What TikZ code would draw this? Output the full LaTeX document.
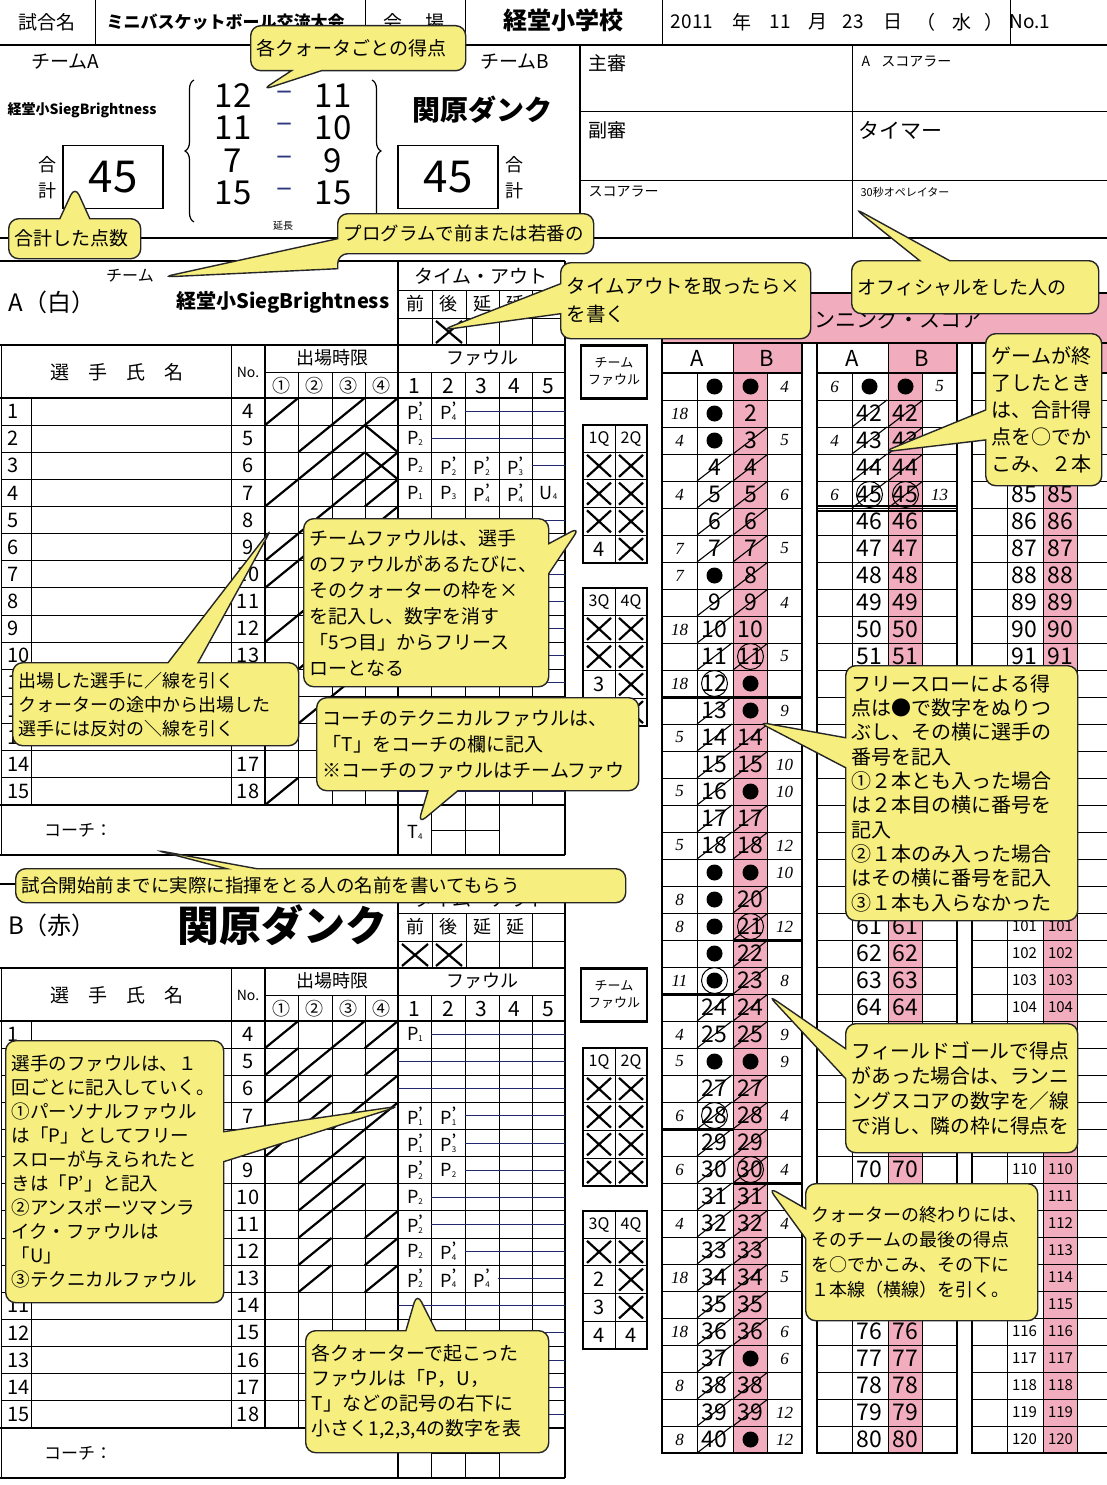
\documentclass[tikz,border=0pt]{standalone}
\usepackage{fontspec}
\setmainfont{Noto Sans CJK JP}
\newfontfamily\serifnum{Liberation Serif}
\usetikzlibrary{shapes.callouts,decorations.pathreplacing}
\definecolor{callfill}{RGB}{246,238,126}
\definecolor{rspink}{RGB}{241,172,190}
\definecolor{penblue}{RGB}{35,40,110}
\definecolor{navy}{RGB}{45,55,125}
\newcommand\fsz[1]{\fontsize{#1}{#1}\selectfont}
\newcommand\foulmark[3]{#1\rlap{\raisebox{.45em}{\fsz{12}\bfseries#2}}\raisebox{-.05em}{\fsz{8}#3}}
\newcommand\teamblock[1]{%
  \draw[tline] (0,261) -- (565,261) (0,345) -- (565,345) (0,398) -- (565,398)
    (0,805) -- (565,805) (0,855) -- (565,855) (565,261) -- (565,855)
    (398,261) -- (398,855) (265,345) -- (265,805);
  \draw[gline] (1,345) -- (1,855) (398,290) -- (565,290) (398,318) -- (565,318)
    (265,372) -- (565,372) (231,345) -- (231,805) (31,398) -- (31,805) (431,830) -- (499,830);
  \foreach \x in {432,466,499,532} \draw[gline] (\x,290) -- (\x,345);
  \foreach \x in {298,332,365,431,465,499,532} \draw[gline] (\x,372) -- (\x,805);
  \foreach \x in {431,465,499} \draw[gline] (\x,805) -- (\x,855);
  \foreach \k in {1,...,14} \draw[gline] (1,398+27.13*\k) -- (565,398+27.13*\k);
  \node[font=\fsz{19}] (#1to) at (481,276) {タイム・アウト};
  \foreach \tw [count=\i] in {前,後,延,延} \node[font=\fsz{18}] (#1to\i) at (415+33.5*\i-33.5,304) {\tw};
  \node[font=\fsz{19}] (#1hName) at (117,372) {選\hspace{1em}手\hspace{1em}氏\hspace{1em}名};
  \node[font=\fsz{14}] (#1hNo) at (248,372) {No.};
  \node[font=\fsz{18}] (#1hPlay) at (332,358) {出場時限};
  \node[font=\fsz{18}] (#1hFoul) at (482,358) {ファウル};
  \foreach \tw [count=\i] in {①,②,③,④} \node[font=\fsz{18}] (#1q\i) at (281.5+33.25*\i-33.25,386) {\tw};
  \foreach \i in {1,...,5} \node[font=\fsz{21}] (#1f\i) at (414.5+33.4*\i-33.4,386) {\i};
  \foreach \k in {1,...,15} {
    \pgfmathtruncatemacro\no{\k+3}
    \node[anchor=west, font=\fsz{20}] (#1r\k) at (4,384.4+27.13*\k) {\k};
    \node[font=\fsz{20}] (#1n\k) at (248,384.4+27.13*\k) {\no};
  }
  \node[font=\fsz{17}] (#1coach) at (78,830) {コーチ：};
  \node[draw, line width=2.4pt, minimum width=66pt, minimum height=53pt, inner sep=0pt,
    align=center, font=\fontsize{13}{17}\selectfont] (#1tf) at (614,372) {チーム\\ファウル};
  \foreach \yt/\qa/\qb in {425/1Q/2Q,588/3Q/4Q} {
    \draw[line width=2.4pt] (583,\yt) rectangle (647,\yt+138);
    \draw[gline] (615,\yt) -- (615,\yt+138);
    \foreach \j in {0,...,3} \draw[gline] (583,\yt+27+27.75*\j) -- (647,\yt+27+27.75*\j);
    \node[font=\fsz{16}] (#1\qa) at (599,\yt+14) {\qa};
    \node[font=\fsz{16}] (#1\qb) at (631,\yt+14) {\qb};
  }}
\newcommand\playslash[3]{%
  \pgfmathsetmacro\psx{265+33.25*(#2-1)}%
  \pgfmathsetmacro\psy{398+27.13*(#1-1)}%
  \if#3b\else\draw[xcross] (\psx,\psy+27.13) -- (\psx+33.25,\psy);\fi
  \if#3s\else\draw[xcross] (\psx,\psy) -- (\psx+33.25,\psy+27.13);\fi}
\newcommand\tfcell[5]{%
  \pgfmathsetmacro\tfx{599+32*(#3-1)}%
  \pgfmathsetmacro\tfy{#2+27+27.75*(#4-0.5)}%
  \if#5x\draw[xcross] (\tfx-12,\tfy-11) -- (\tfx+12,\tfy+11) (\tfx-12,\tfy+11) -- (\tfx+12,\tfy-11);%
  \else\node[font=\fsz{20}] (#1tf#2-#3-#4) at (\tfx,\tfy) {#5};\fi}
\newcommand\foulcell[6]{%
  \node[font=\fsz{18}, inner sep=0pt] (#1fl#2-#3) at (415+33.4*#3-33.4,384.4+27.13*#2) {\foulmark{#4}{#5}{#6}};}
\newcommand\strikerow[2]{\draw[penblue, line width=1pt] (398+33.4*#2-33.4,384.4+27.13*#1) -- (565,384.4+27.13*#1);}
\newcommand\rscell[5]{%
  \if#2d\fill (#1+17.5,#4) circle[radius=8];\fi
  \if#2c\fill (#1+17.5,#4) circle[radius=8];\draw[line width=1pt] (#1+17.5,#4) circle[radius=13];\fi
  \if#2n\node[rsnum] (#5) at (#1+17.5,#4) {#3};\fi
  \if#2s\node[rsnum, font=\fsz{15}] (#5) at (#1+17.5,#4) {#3};\fi
  \if#2x\node[rsnum] (#5) at (#1+17.5,#4) {#3};\draw[line width=1.1pt] (#1,#4+13.5) -- (#1+35,#4-13.5);\fi
  \if#2o\node[rsnum] (#5) at (#1+17.5,#4) {#3};\draw[line width=1pt] (#1+17.5,#4) circle[radius=13];\fi
  \if#2q\node[rsnum] (#5) at (#1+17.5,#4) {#3};\draw[line width=1pt] (#1+17.5,#4) circle[radius=13];
    \draw[line width=1.1pt] (#1,#4+13.5) -- (#1+35,#4-13.5);\fi}
\newcommand\rsrow[6]{%
  \pgfmathsetmacro\yc{373+27*(#2-40*int((#2-1)/40))-13.5}%
  \rscell{#1+35}{#4}{#2}{\yc}{rs#2-a}
  \rscell{#1+71}{#5}{#2}{\yc}{rs#2-b}
  \node[rsply] (rs#2-pa) at (#1+17.5,\yc) {#3};
  \node[rsply] (rs#2-pb) at (#1+122.5,\yc) {#6};}

\begin{document}
\begin{tikzpicture}[x=1pt,y=-1pt,
  gline/.style={line width=1pt},
  tline/.style={line width=2.6pt},
  xcross/.style={line width=2.2pt},
  rsnum/.style={font=\fsz{23}, inner sep=0pt},
  rsply/.style={font=\serifnum\itshape\fsz{17}, inner sep=0pt},
  callbox/.style={rectangle callout, draw=black!85, line width=1.4pt, fill=callfill,
    rounded corners=10pt, anchor=north west, align=left, inner xsep=6pt, inner ysep=4pt,
    callout pointer width=30pt, font=\fontsize{19}{25}\selectfont}]
\fill[white] (0,0) rectangle (1107,1485);
\useasboundingbox (0,0) rectangle (1107,1485);

\draw[tline] (0,45) -- (1107,45) (580,45) -- (580,238) (0,238) -- (1107,238);
\draw[gline] (852,45) -- (852,238) (580,112) -- (1107,112) (580,180) -- (1107,180);
\foreach \x in {95,365,465,662,1010} \draw[gline] (\x,0) -- (\x,45);
\node[font=\fsz{19}] (hdMeet) at (47,22) {試合名};
\node[anchor=west, font=\bfseries\fsz{17}] (hdMeetName) at (103,22) {ミニバスケットボール交流大会};
\node[font=\fsz{19}] (hdHall) at (414,22) {会\hspace{1.2em}場};
\node[font=\bfseries\fsz{24}] (hdHallName) at (563,20) {経堂小学校};
\foreach \tw/\x [count=\i] in {2011/692,年/742,11/780,月/818,23/853,日/893,（/926,水/962,）/994}
  \node[font=\fsz{19}] (hdDate\i) at (\x,22) {\tw};
\node[font=\fsz{19}] (hdNo) at (1030,22) {No.1};

\node[anchor=west, font=\fsz{19}] (offMain) at (585,63) {主審};
\node[anchor=west, font=\fsz{14}] (offScA) at (858,62) {A\hspace{0.8em}スコアラー};
\node[anchor=west, font=\fsz{19}] (offSub) at (585,130) {副審};
\node[anchor=west, font=\fsz{21}] (offTimer) at (855,130) {タイマー};
\node[anchor=west, font=\fsz{14}] (offSc) at (585,192) {スコアラー};
\node[anchor=west, font=\fsz{11}] (offShot) at (857,192) {30秒オペレイター};

\node[font=\fsz{19}] (tsA) at (65,62) {チームA};
\node[font=\fsz{19}] (tsB) at (515,62) {チームB};
\node[font=\bfseries\fsz{14}] (tsAname) at (82,110) {経堂小SiegBrightness};
\node[font=\bfseries\fsz{28}] (tsBname) at (482,110) {関原ダンク};
\draw[decorate, decoration={brace, amplitude=9pt}, line width=1.2pt] (194,222) -- (194,80);
\draw[decorate, decoration={brace, amplitude=9pt}, line width=1.2pt] (372,80) -- (372,222);
\foreach \sa/\sb [count=\i] in {12/11,11/10,7/9,15/15} {
  \node[font=\fsz{33}] (qsA\i) at (233,63+32.5*\i) {\sa};
  \node[font=\fsz{30}, text=navy] (qsD\i) at (285,63+32.5*\i) {–};
  \node[font=\fsz{33}] (qsB\i) at (333,63+32.5*\i) {\sb};
}
\node[draw, line width=1.2pt, minimum width=100pt, minimum height=63pt, font=\fsz{44}] (totA) at (113,177) {45};
\node[draw, line width=1.2pt, minimum width=100pt, minimum height=63pt, font=\fsz{44}] (totB) at (448,177) {45};
\node[align=center, font=\fontsize{18}{26}\selectfont] (totAl) at (47,178) {合\\計};
\node[align=center, font=\fontsize{18}{26}\selectfont] (totBl) at (514,178) {合\\計};
\node[font=\fsz{10}] (extra) at (283,226) {延長};

% team A
\node[font=\fsz{16}] (Ateam) at (130,276) {チーム};
\node[font=\fsz{24}] (Aside) at (52,302) {A（白）};
\node[font=\bfseries\fsz{20}] (Aname) at (283,302) {経堂小SiegBrightness};
\teamblock{A}
\draw[xcross] (436,321) -- (462,343) (436,343) -- (462,321);
\foreach \r/\q/\ty in {1/1/s,1/3/s,1/4/s,2/2/s,2/3/s,2/4/b,3/2/s,3/3/s,3/4/x,4/1/s,4/3/s,4/4/s,
  5/2/s,5/4/s,6/1/s,6/2/s,7/1/s,7/3/s,8/2/s,8/4/s,9/1/s,9/3/s,10/2/s,10/4/s,11/1/s,11/3/s,
  12/2/s,13/4/s,14/4/s,15/1/s} {\playslash{\r}{\q}{\ty}}
\foreach \r/\c/\fl/\fm/\fn in {1/1/P/'/1,1/2/P/'/4,2/1/P//2,3/1/P//2,3/2/P/'/2,3/3/P/'/2,
  3/4/P/'/3,4/1/P//1,4/2/P//3,4/3/P/'/4,4/4/P/'/4,4/5/U//4} {\foulcell{A}{\r}{\c}{\fl}{\fm}{\fn}}
\foreach \r/\sc in {1/3,2/2,3/5} {\strikerow{\r}{\sc}}
\foreach \r in {5,...,15} {\strikerow{\r}{1}}
\node[font=\fsz{18}, inner sep=0pt] (Acoachfoul) at (415,832) {\foulmark{T}{}{4}};
\foreach \bt/\c/\j/\v in {425/1/1/x,425/1/2/x,425/1/3/x,425/1/4/4,425/2/1/x,425/2/2/x,425/2/3/x,
  425/2/4/x,588/1/1/x,588/1/2/x,588/1/3/3,588/2/1/x,588/2/2/x,588/2/3/x,588/2/4/x} {\tfcell{A}{\bt}{\c}{\j}{\v}}

% team B
\begin{scope}[shift={(0,623)}]
\node[font=\fsz{24}] (Bside) at (52,302) {B（赤）};
\node[font=\bfseries\fsz{42}] (Bname) at (282,302) {関原ダンク};
\teamblock{B}
\draw[xcross] (402,321) -- (428,343) (402,343) -- (428,321) (436,321) -- (462,343) (436,343) -- (462,321);
\foreach \r/\q/\ty in {1/1/s,1/3/s,1/4/s,2/1/s,2/2/s,2/4/s,3/1/s,3/2/s,3/4/s,4/2/s,4/3/s,4/4/s,
  5/1/s,5/3/s,6/2/s,6/3/s,7/2/s,7/3/s,8/2/s,8/4/s,9/2/s,9/4/s,10/2/s,10/4/s} {\playslash{\r}{\q}{\ty}}
\foreach \r/\c/\fl/\fm/\fn in {1/1/P//1,4/1/P/'/1,4/2/P/'/1,5/1/P/'/1,5/2/P/'/3,6/1/P/'/2,6/2/P//2,
  7/1/P//2,8/1/P/'/2,9/1/P//2,9/2/P/'/4,10/1/P/'/2,10/2/P/'/4,10/3/P/'/4} {\foulcell{B}{\r}{\c}{\fl}{\fm}{\fn}}
\foreach \r/\sc in {1/2,2/1,3/1,4/3,5/3,6/3,7/2,8/2,9/3,10/4} {\strikerow{\r}{\sc}}
\foreach \r in {11,...,15} {\strikerow{\r}{1}}
\foreach \bt/\c/\j/\v in {425/1/1/x,425/1/2/x,425/1/3/x,425/1/4/x,425/2/1/x,425/2/2/x,425/2/3/x,
  425/2/4/x,588/1/1/x,588/1/2/2,588/1/3/3,588/1/4/4,588/2/1/x,588/2/2/x,588/2/3/x,588/2/4/4} {\tfcell{B}{\bt}{\c}{\j}{\v}}
\end{scope}

% running score
\fill[rspink] (662,293) rectangle (1107,343);
\node[font=\fsz{21}] (rsTitle) at (888,319) {ランニング・スコア};
\foreach \bl in {662,817,972} {
  \fill[rspink] (\bl+71,343) rectangle (\bl+140,373) (\bl+71,373) rectangle (\bl+105,1453);
  \foreach \k in {1,...,39} \draw[gline] (\bl,373+27*\k) -- (\bl+140,373+27*\k);
  \draw[gline] (\bl+35,373) -- (\bl+35,1453) (\bl+105,373) -- (\bl+105,1453) (\bl+71,343) -- (\bl+71,1453);
  \draw[line width=1.8pt] (\bl,373) -- (\bl+140,373);
  \draw[tline] (\bl,343) rectangle (\bl+140,1453);
  \node[font=\fsz{22}] (rsA\bl) at (\bl+35,358) {A};
  \node[font=\fsz{22}] (rsB\bl) at (\bl+105,358) {B};
}
\draw[tline] (662,293) -- (1107,293) (662,293) -- (662,343) (662,343) -- (1107,343);
\foreach \r/\ap/\ca/\cb/\bp in {1//d/d/4,2/18/d/n/,3/4/d/x/5,4//x/x/,5/4/x/x/6,6//x/x/,7/7/x/x/5,
  8/7/d/x/,9//x/x/4,10/18/x/n/,11//x/q/5,12/18/o/d/,13//x/d/9,14/5/x/x/,15//x/x/10,16/5/x/d/10,
  17//x/x/,18/5/x/x/12,19//d/d/10,20/8/d/x/,21/8/d/q/12,22//d/x/,23/11/c/x/8,24//x/x/,25/4/x/x/9,
  26/5/d/d/9,27//x/x/,28/6/q/x/4,29//x/x/,30/6/x/q/4,31//x/x/,32/4/x/x/4,33//x/x/,34/18/x/x/5,
  35//x/x/,36/18/x/x/6,37//x/d/6,38/8/x/x/,39//x/x/12,40/8/x/d/12} {\rsrow{662}{\r}{\ap}{\ca}{\cb}{\bp}}
\foreach \r/\ap/\ca/\cb/\bp in {41/6/d/d/5,42//x/x/,43/4/x/x/,44//x/x/,45/6/q/q/13} {\rsrow{817}{\r}{\ap}{\ca}{\cb}{\bp}}
\foreach \r in {46,...,80} {\rsrow{817}{\r}{}{n}{n}{}}
\foreach \r in {81,...,100} {\rsrow{972}{\r}{}{n}{n}{}}
\foreach \r in {101,...,120} {\rsrow{972}{\r}{}{s}{s}{}}
\draw[line width=3pt] (662,697) -- (802,697) (662,994) -- (733,994) (662,1129) -- (733,1129)
  (733,940) -- (802,940) (733,1183) -- (802,1183);
\draw[line width=1.6pt] (817,506) -- (957,506) (817,511) -- (957,511);

% callouts
\coordinate (tipQuarter) at (262,90);
\node[callbox, text width=203pt, minimum height=45pt, callout absolute pointer={(tipQuarter)}] (cQuarter) at (250,25) {各クォータごとの得点};
\coordinate (tipTotal) at (75,186);
\node[callbox, text width=120pt, minimum height=40pt, callout absolute pointer={(tipTotal)}] (cTotal) at (8,218) {合計した点数};
\coordinate (tipProgram) at (163,277);
\node[callbox, text width=244pt, minimum height=40pt, font=\fontsize{18.5}{24}\selectfont, callout absolute pointer={(tipProgram)}] (cProgram) at (337,213) {プログラムで前または若番の};
\coordinate (tipTimeout) at (442,330);
\node[callbox, text width=238pt, minimum height=76pt, font=\fontsize{19.5}{28}\selectfont, callout absolute pointer={(tipTimeout)}] (cTimeout) at (560,262) {タイムアウトを取ったら×\\を書く};
\coordinate (tipOfficial) at (854,208);
\node[callbox, text width=235pt, minimum height=53pt, callout absolute pointer={(tipOfficial)}] (cOfficial) at (851,260) {オフィシャルをした人の};
\coordinate (tipTeamFoul) at (580,527);
\node[callbox, text width=233pt, minimum height=168pt, font=\fontsize{19}{26}\selectfont, callout absolute pointer={(tipTeamFoul)}] (cTeamFoul) at (303,518)
  {チームファウルは、選手\\のファウルがあるたびに、\\そのクォーターの枠を×\\を記入し、数字を消す\\「5つ目」からフリース\\ローとなる};
\coordinate (tipPlayed) at (272,528);
\node[callbox, text width=274pt, minimum height=83pt, font=\fontsize{18}{24}\selectfont, callout absolute pointer={(tipPlayed)}] (cPlayed) at (12,662)
  {出場した選手に／線を引く\\クォーターの途中から出場した\\選手には反対の＼線を引く};
\coordinate (tipCoachT) at (418,824);
\node[callbox, text width=310pt, minimum height=93pt, font=\fontsize{19}{26}\selectfont, callout absolute pointer={(tipCoachT)}] (cCoachT) at (316,697)
  {コーチのテクニカルファウルは、\\「T」をコーチの欄に記入\\※コーチのファウルはチームファウ};
\coordinate (tipCoachName) at (155,850);
\node[callbox, text width=598pt, minimum height=34pt, font=\fontsize{18.5}{22}\selectfont, callout absolute pointer={(tipCoachName)}] (cCoachName) at (15,868)
  {試合開始前までに実際に指揮をとる人の名前を書いてもらう};
\coordinate (tipPlayerFoul) at (400,1106);
\node[callbox, text width=206pt, minimum height=262pt, font=\fontsize{18.5}{24}\selectfont, callout absolute pointer={(tipPlayerFoul)}] (cPlayerFoul) at (5,1040)
  {選手のファウルは、１\\回ごとに記入していく。\\①パーソナルファウル\\は「P」としてフリー\\スローが与えられたと\\きは「P'」と記入\\②アンスポーツマンラ\\イク・ファウルは\\「U」\\③テクニカルファウル};
\coordinate (tipQuarterFoul) at (417,1293);
\node[callbox, text width=231pt, minimum height=122pt, font=\fontsize{19}{25}\selectfont, callout absolute pointer={(tipQuarterFoul)}] (cQuarterFoul) at (305,1330)
  {各クォーターで起こった\\ファウルは「P，U，\\T」などの記号の右下に\\小さく1,2,3,4の数字を表};
\coordinate (tipGameEnd) at (883,452);
\node[callbox, text width=104pt, minimum height=152pt, font=\fontsize{20}{27}\selectfont, callout absolute pointer={(tipGameEnd)}] (cGameEnd) at (985,333)
  {ゲームが終\\了したとき\\は、合計得\\点を○でか\\こみ、２本};
\coordinate (tipFreeThrow) at (758,722);
\node[callbox, text width=220pt, minimum height=255pt, font=\fontsize{20}{24.3}\selectfont, callout absolute pointer={(tipFreeThrow)}] (cFreeThrow) at (845,665)
  {フリースローによる得\\点は●で数字をぬりつ\\ぶし、その横に選手の\\番号を記入\\①２本とも入った場合\\は２本目の横に番号を\\記入\\②１本のみ入った場合\\はその横に番号を記入\\③１本も入らなかった};
\coordinate (tipFieldGoal) at (768,995);
\node[callbox, text width=220pt, minimum height=129pt, font=\fontsize{19.8}{25}\selectfont, callout absolute pointer={(tipFieldGoal)}] (cFieldGoal) at (845,1023)
  {フィールドゴールで得点\\があった場合は、ランニ\\ングスコアの数字を／線\\で消し、隣の枠に得点を};
\coordinate (tipQuarterEnd) at (768,1187);
\node[callbox, text width=220pt, minimum height=137pt, font=\fontsize{18}{25}\selectfont, callout absolute pointer={(tipQuarterEnd)}] (cQuarterEnd) at (805,1183)
  {クォーターの終わりには、\\そのチームの最後の得点\\を○でかこみ、その下に\\１本線（横線）を引く。};
\end{tikzpicture}
\end{document}
